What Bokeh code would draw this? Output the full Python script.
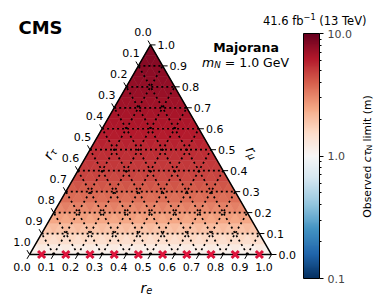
import numpy as np
from bokeh.plotting import figure
from bokeh.models import ColumnDataSource, LogColorMapper, ColorBar, FixedTicker, PrintfTickFormatter, Range1d
from bokeh.core.properties import value
from bokeh.embed import file_html
from bokeh.resources import INLINE

# ---------------- data ----------------
# observed c*tau limit (m) per row of the ternary grid, r_mu = 0 ... 1 in steps of 0.05
row_rmu_steps = 20
row_limits = [1.00, 1.35, 1.75, 2.25, 2.80, 3.35, 3.90, 4.40, 4.85, 5.25,
              5.60, 5.95, 6.30, 6.60, 6.90, 7.20, 7.50, 7.80, 8.10, 8.35, 8.50]
# excluded points (red crosses), r_e along r_mu = 0
cross_re = [0.05, 0.15, 0.25, 0.35, 0.45, 0.55, 0.65, 0.75, 0.85, 0.95]
cross_rmu = [0.0] * 10
tick_vals = [0.0, 0.1, 0.2, 0.3, 0.4, 0.5, 0.6, 0.7, 0.8, 0.9, 1.0]
tick_labels = ["0.0", "0.1", "0.2", "0.3", "0.4", "0.5", "0.6", "0.7", "0.8", "0.9", "1.0"]
grid_vals = [0.1, 0.2, 0.3, 0.4, 0.5, 0.6, 0.7, 0.8, 0.9]
cbar_ticks = [0.1, 1.0, 10.0]
cbar_minor = [0.2, 0.3, 0.4, 0.5, 0.6, 0.7, 0.8, 0.9, 2, 3, 4, 5, 6, 7, 8, 9]

# ---------------- geometry ----------------
H = np.sqrt(3) / 2
S = 242.0              # px per unit
OX, OY = 29.0, 254.0   # px of r_tau vertex
W, HT = 388, 300

def d(X, Y):
    return (X - OX) / S, (OY - Y) / S

def tern(re, rmu):
    return re + rmu / 2.0, rmu * H

# RdBu_r palette
rdbu = ["#053061", "#2166ac", "#4393c3", "#92c5de", "#d1e5f0", "#f7f7f7",
        "#fddbc7", "#f4a582", "#d6604d", "#b2182b", "#67001f"]
def hex2rgb(h):
    return np.array([int(h[i:i + 2], 16) for i in (1, 3, 5)], float)
cols = np.array([hex2rgb(c) for c in rdbu])
pal = []
for k in range(256):
    t = k / 255 * 10
    i = min(int(t), 9)
    f = t - i
    c = cols[i] * (1 - f) + cols[i + 1] * f
    pal.append("#%02x%02x%02x" % tuple(int(round(x)) for x in c))
mapper = LogColorMapper(palette=pal, low=0.1, high=10.0)

p = figure(width=W, height=HT, output_backend="svg", toolbar_location=None,
           x_range=Range1d(-OX / S, (W - OX) / S),
           y_range=Range1d((OY - HT) / S, OY / S), min_border=0)
p.axis.visible = False
p.grid.visible = False
p.outline_line_color = None
p.background_fill_color = "white"

# ---------------- cells (tripcolor-like) ----------------
N = row_rmu_steps
v = row_limits
xs, ys, vals = [], [], []
for j in range(N):
    for i in range(N - j):
        pts = [(i, j), (i + 1, j), (i, j + 1)]
        xs.append([tern(a / N, b / N)[0] for a, b in pts])
        ys.append([tern(a / N, b / N)[1] for a, b in pts])
        vals.append((2 * v[j] + v[j + 1]) / 3)
    for i in range(N - 1 - j):
        pts = [(i + 1, j), (i + 1, j + 1), (i, j + 1)]
        xs.append([tern(a / N, b / N)[0] for a, b in pts])
        ys.append([tern(a / N, b / N)[1] for a, b in pts])
        vals.append((v[j] + 2 * v[j + 1]) / 3)
src = ColumnDataSource(dict(xs=xs, ys=ys, val=vals))
p.patches("xs", "ys", source=src, fill_color={"field": "val", "transform": mapper},
          line_color={"field": "val", "transform": mapper}, line_width=0.6)

# ---------------- dotted grid ----------------
gx, gy = [], []
for t in grid_vals:
    a = tern(0, t); b = tern(1 - t, t)
    gx.append([a[0], b[0]]); gy.append([a[1], b[1]])
    a = tern(t, 0); b = tern(t, 1 - t)
    gx.append([a[0], b[0]]); gy.append([a[1], b[1]])
    a = tern(1 - t, 0); b = tern(0, 1 - t)
    gx.append([a[0], b[0]]); gy.append([a[1], b[1]])
p.multi_line(gx, gy, line_color="black", line_width=1.7, line_dash="2 3")

# ---------------- triangle outline ----------------
c0, c1, c2 = tern(0, 0), tern(1, 0), tern(0, 1)
p.line([c0[0], c1[0], c2[0], c0[0]], [c0[1], c1[1], c2[1], c0[1]], line_color="black", line_width=1.5)

# ---------------- crosses ----------------
cx = [tern(a, b)[0] for a, b in zip(cross_re, cross_rmu)]
cy = [tern(a, b)[1] for a, b in zip(cross_re, cross_rmu)]
p.scatter(cx, cy, marker="x", size=10, line_color="#dc143c", line_width=3)

# ---------------- ticks and labels ----------------
L = 5 / S
FS = "11px"
tx, ty = [], []
lab = {"b": ([], [], []), "l": ([], [], []), "r": ([], [], [])}
for t, s in zip(tick_vals, tick_labels):
    bx, by = tern(t, 0)
    dx, dy = -0.5, -H
    tx.append([bx, bx + dx * L]); ty.append([by, by + dy * L])
    lab["b"][0].append(bx + dx * 15 / S); lab["b"][1].append(by + dy * 15 / S); lab["b"][2].append(s)
    bx, by = tern(0, 1 - t)
    dx, dy = -0.5, H
    tx.append([bx, bx + dx * L]); ty.append([by, by + dy * L])
    lab["l"][0].append(bx + dx * 15 / S); lab["l"][1].append(by + dy * 15 / S); lab["l"][2].append(s)
    bx, by = tern(1 - t, t)
    tx.append([bx, bx + L]); ty.append([by, by])
    lab["r"][0].append(bx + 7 / S); lab["r"][1].append(by); lab["r"][2].append(s)
p.multi_line(tx, ty, line_color="black", line_width=1)
font = value("DejaVu Sans")
p.text(lab["b"][0], lab["b"][1], text=lab["b"][2], text_font=font, text_font_size=FS,
       text_align="center", text_baseline="middle", text_color="black")
p.text(lab["l"][0], lab["l"][1], text=lab["l"][2], text_font=font, text_font_size=FS,
       text_align="center", text_baseline="middle", text_color="black")
p.text(lab["r"][0], lab["r"][1], text=lab["r"][2], text_font=font, text_font_size=FS,
       text_align="left", text_baseline="middle", text_color="black")

# ---------------- composed texts ----------------
CW = {'O': 1612, 'b': 1300, 's': 1067, 'e': 1260, 'r': 842, 'v': 1212, 'd': 1300, ' ': 651,
      'l': 569, 'i': 569, 'm': 1995, 't': 803, '(': 799, ')': 799, 'c': 1126, 'N': 1532,
      '=': 1716, '1': 1303, '.': 651, '0': 1303, 'G': 1577, 'V': 1401, 'τ': 1100, 'μ': 1300,
      '4': 1303, '6': 1303, '3': 1303, 'f': 721, 'T': 1251, '\u2212': 1716}

def tw(s, size):
    return sum(CW.get(ch, 1250) for ch in s) / 2048 * size

def compose(X, Y, ang, pieces, align="center"):
    th = np.radians(ang)
    ux, uy = np.cos(th), -np.sin(th)
    nx, ny = np.sin(th), np.cos(th)
    total = sum(tw(t, s) for t, s, _, _ in pieces)
    off = -total / 2 if align == "center" else (-total if align == "right" else 0)
    for t, s, st, low in pieces:
        lead = len(t) - len(t.lstrip(" "))
        off += tw(" " * lead, s)
        txt = t.strip(" ")
        px = X + ux * off + nx * low
        py = Y + uy * off + ny * low
        dx, dy = d(px, py)
        p.text([dx], [dy], text=[txt], angle=th, text_font=font, text_font_size="%.1fpx" % s,
               text_font_style=st, text_align="left", text_baseline="alphabetic", text_color="black")
        off += tw(t.lstrip(" "), s)

def single(X, Y, txt, size, style="normal", align="left"):
    dx, dy = d(X, Y)
    p.text([dx], [dy], text=[txt], text_font=font, text_font_size="%.1fpx" % size,
           text_font_style=style, text_align=align, text_baseline="alphabetic", text_color="black")

single(18, 27, "CMS", 18, "bold")
compose(368, 20, 0, [("41.6 fb", 11.5, "normal", 0), ("\u22121", 8.2, "normal", -4.5),
                     (" (13 TeV)", 11.5, "normal", 0)], align="right")
single(245.5, 46.5, "Majorana", 12.5, "bold", "center")
compose(245, 62, 0, [("m", 12.5, "italic", 0), ("N", 8.75, "italic", 2.5), (" = 1.0 GeV", 12.5, "normal", 0)])
compose(146, 287, 0, [("r", 14, "italic", 0), ("e", 9.8, "italic", 2.8)])
compose(49, 153, 60, [("r", 14, "italic", 0), ("τ", 9.8, "italic", 2.8)])
compose(252, 152, -60, [("r", 14, "italic", 0), ("μ", 9.8, "italic", 2.8)])
compose(367, 156, 90, [("Observed ", 10.8, "normal", 0), ("cτ", 10.8, "italic", 0),
                        ("N", 7.6, "normal", 2.2), (" limit (m)", 10.8, "normal", 0)])

# ---------------- colorbar ----------------
cb = ColorBar(color_mapper=mapper, location=(303, HT - 278), width=16, height=245, padding=0,
              ticker=FixedTicker(ticks=cbar_ticks, minor_ticks=cbar_minor),
              formatter=PrintfTickFormatter(format="%.1f"),
              major_label_text_font="DejaVu Sans", major_label_text_font_size="11px",
              major_tick_in=0, major_tick_out=4, major_tick_line_color="black",
              minor_tick_in=0, minor_tick_out=2, minor_tick_line_color="black",
              bar_line_color="black", border_line_color=None, background_fill_alpha=0,
              label_standoff=4)
p.add_layout(cb, "center")

open("out.html", "w").write(file_html(p, INLINE))
